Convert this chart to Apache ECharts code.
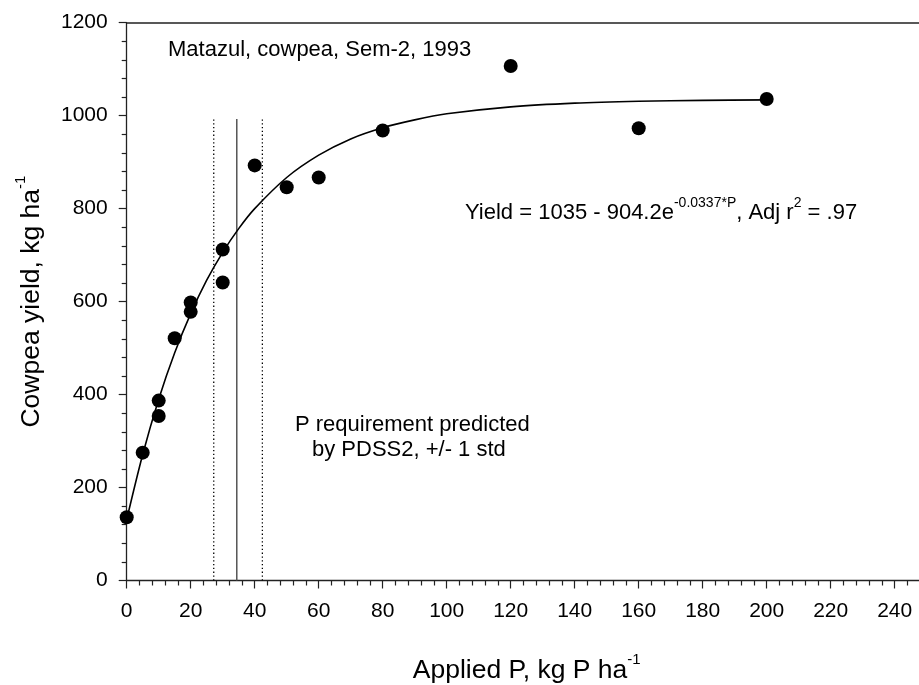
<!DOCTYPE html>
<html>
<head>
<meta charset="utf-8">
<script src="https://cdn.jsdelivr.net/npm/echarts@6/dist/echarts.min.js"></script>
<style>
* { padding: 0; margin: 0; }
body { background: #fff; }
</style>
</head>
<body>
<div id="chart" style="width: 919px; height: 685px"></div>
<script>
// observed yields
const pRates = [0, 5, 10, 10, 15, 20, 20, 30, 30, 40, 50, 60, 80, 120, 160, 200];
const yields = [136, 275, 387, 354, 521, 598, 578, 712, 641, 893, 846, 867, 968, 1107, 973, 1036];

// fitted curve
const fitP = [0, 5, 10, 15, 20, 25, 30, 35, 40, 50, 60, 70, 80, 90, 100, 120, 140, 160, 180, 200];
const fitYield = [131, 271, 390, 490, 574, 646, 706, 757, 800, 867, 915, 950, 974, 991, 1004, 1019, 1027, 1031, 1033, 1034];

// PDSS2 predicted requirement: low, mean, high
const reqP = [27.2, 34.4, 42.4];
const reqTop = 993;

const xTicks = [0, 20, 40, 60, 80, 100, 120, 140, 160, 180, 200, 220, 240];
const yTicks = [0, 200, 400, 600, 800, 1000, 1200];

const font = '"Liberation Sans", Arial, sans-serif';
const axisColor = "#222";

const chart = echarts.init(document.getElementById("chart"));

function vline(p, dashed) {
  return {
    type: "line",
    data: [[p, 0], [p, reqTop]],
    symbol: "none",
    silent: true,
    z: 1,
    lineStyle: {
      color: dashed ? "#000" : "#555",
      width: dashed ? 1.3 : 1.5,
      type: dashed ? [1.3, 2.5] : "solid",
    },
  };
}

chart.setOption({
  animation: false,
  backgroundColor: "#fff",
  textStyle: { fontFamily: font },
  grid: {
    left: 126.7,
    top: 22.7,
    width: 832,
    height: 557.8,
    outerBoundsMode: "none",
    containLabel: false,
  },
  xAxis: [
    {
      type: "value",
      min: 0,
      max: 260,
      interval: 20,
      splitLine: { show: false },
      axisLine: { lineStyle: { color: axisColor, width: 1.3 } },
      axisTick: { length: 8, lineStyle: { color: axisColor, width: 1.2 } },
      minorTick: { show: true, splitNumber: 5, length: 5, lineStyle: { color: axisColor, width: 1.2 } },
      axisLabel: {
        fontSize: 21,
        color: "#000",
        margin: 20,
        fontFamily: font,
        formatter: (v) => (xTicks.includes(v) ? String(v) : ""),
      },
      name: "Applied P, kg P ha{sup|-1}",
      nameLocation: "middle",
      nameGap: 72,
      nameTextStyle: {
        fontSize: 26.5,
        color: "#000",
        fontFamily: font,
        padding: [0, 32, 0, 0],
        lineHeight: 36,
        rich: { sup: { fontSize: 15, verticalAlign: "top", lineHeight: 14, fontFamily: font, color: "#000" } },
      },
    },
    {
      type: "value",
      position: "top",
      min: 0,
      max: 260,
      axisLine: { show: true, lineStyle: { color: axisColor, width: 1.5 } },
      axisTick: { show: false },
      axisLabel: { show: false },
      splitLine: { show: false },
    },
  ],
  yAxis: {
    type: "value",
    min: 0,
    max: 1200,
    interval: 200,
    splitLine: { show: false },
    axisLine: { show: true, lineStyle: { color: axisColor, width: 1.3 } },
    axisTick: { show: true, length: 8, lineStyle: { color: axisColor, width: 1.2 } },
    minorTick: { show: true, splitNumber: 5, length: 5, lineStyle: { color: axisColor, width: 1.2 } },
    axisLabel: {
      fontSize: 21,
      color: "#000",
      margin: 19,
      fontFamily: font,
      formatter: (v) => (yTicks.includes(v) ? String(v) : ""),
    },
    name: "Cowpea yield, kg ha{sup|-1}",
    nameLocation: "middle",
    nameGap: 77,
    nameTextStyle: {
      fontSize: 26.5,
      color: "#000",
      fontFamily: font,
      lineHeight: 36,
      rich: { sup: { fontSize: 15, verticalAlign: "top", lineHeight: 14, fontFamily: font, color: "#000" } },
    },
  },
  series: [
    vline(reqP[0], true),
    vline(reqP[1], false),
    vline(reqP[2], true),
    {
      name: "fit",
      type: "line",
      data: fitP.map((p, i) => [p, fitYield[i]]),
      smooth: 0.3,
      symbol: "none",
      z: 2,
      lineStyle: { color: "#000", width: 1.6 },
    },
    {
      name: "observed",
      type: "scatter",
      data: pRates.map((p, i) => [p, yields[i]]),
      symbol: "circle",
      symbolSize: 14,
      z: 3,
      itemStyle: { color: "#000", opacity: 1 },
    },
  ],
  graphic: [
    {
      type: "text",
      left: 168,
      top: 39,
      style: { text: "Matazul, cowpea, Sem-2, 1993", fill: "#000", font: "22px " + font },
    },
    {
      type: "text",
      left: 465,
      top: 196,
      style: {
        text: "Yield = 1035 - 904.2e{sup|-0.0337*P}, Adj r{sup|2} = .97",
        fill: "#000",
        font: "22px " + font,
        lineHeight: 34,
        rich: {
          sup: { fontSize: 14, verticalAlign: "top", lineHeight: 14, fill: "#000", fontFamily: font },
        },
      },
    },
    {
      type: "text",
      left: 295,
      top: 414,
      style: { text: "P requirement predicted", fill: "#000", font: "22px " + font },
    },
    {
      type: "text",
      left: 312,
      top: 439,
      style: { text: "by PDSS2, +/- 1 std", fill: "#000", font: "22px " + font },
    },
  ],
});
</script>
</body>
</html>
